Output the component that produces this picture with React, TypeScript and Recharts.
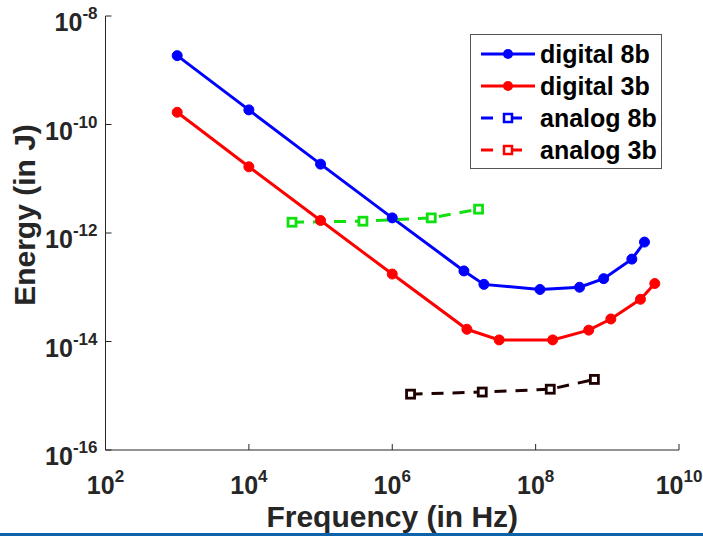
import { LineChart, Line, XAxis, YAxis, Label } from 'recharts'

const digital8bFreq = [1e3, 1e4, 1e5, 1e6, 1e7, 1.9e7, 1.15e8, 4.1e8, 8.9e8, 2.2e9, 3.3e9]
const digital8bEnergy = [1.86e-9, 1.86e-10, 1.86e-11, 1.9e-12, 2.0e-13, 1.13e-13, 9.1e-14, 1.0e-13, 1.44e-13, 3.3e-13, 6.8e-13]
const digital3bFreq = [1e3, 1e4, 1e5, 1e6, 1.1e7, 3.1e7, 1.73e8, 5.5e8, 1.12e9, 2.9e9, 4.6e9]
const digital3bEnergy = [1.68e-10, 1.66e-11, 1.7e-12, 1.75e-13, 1.68e-14, 1.07e-14, 1.07e-14, 1.62e-14, 2.6e-14, 6.0e-14, 1.17e-13]
const analog8bFreq = [4.0e4, 3.9e5, 3.5e6, 1.6e7]
const analog8bEnergy = [1.58e-12, 1.65e-12, 1.9e-12, 2.75e-12]
const analog3bFreq = [1.8e6, 1.8e7, 1.6e8, 6.6e8]
const analog3bEnergy = [1.07e-15, 1.17e-15, 1.32e-15, 2.0e-15]

const xTicks = [1e2, 1e4, 1e6, 1e8, 1e10]
const yTicks = [1e-16, 1e-14, 1e-12, 1e-10, 1e-8]

const legendNames = ['digital 8b', 'digital 3b', 'analog 8b', 'analog 3b']
const legendColors = ['#0000ff', '#ff0000', '#0000ff', '#ff0000']

const FONT = '"Liberation Sans", Arial, sans-serif'
const INK = '#262626'

const toPoints = (fs: number[], es: number[]) => fs.map((f, i) => ({ f, e: es[i] }))

const exp = (v: number) => Math.round(Math.log10(v))

const BottomTick = ({ x, y, payload }: any) => (
  <g>
    <line x1={x} x2={x} y1={y} y2={y - 6} stroke={INK} />
    <text x={x} y={y + 44} textAnchor="middle" fontFamily={FONT} fontWeight="bold" fontSize={25} fill={INK}>
      10<tspan dy={-12} fontSize={17}>{exp(payload.value)}</tspan>
    </text>
  </g>
)

const LeftTick = ({ x, y, payload }: any) => (
  <g>
    <line x1={x} x2={x + 6} y1={y} y2={y} stroke={INK} />
    <text x={x - 8} y={y + 15} textAnchor="end" fontFamily={FONT} fontWeight="bold" fontSize={25} fill={INK}>
      10<tspan dy={-12} fontSize={17}>{exp(payload.value)}</tspan>
    </text>
  </g>
)

const TopTick = ({ x, y }: any) => <line x1={x} x2={x} y1={y} y2={y + 6} stroke={INK} />
const RightTick = ({ x, y }: any) => <line x1={x} x2={x - 6} y1={y} y2={y} stroke={INK} />

const SquareDot = (color: string) => (props: any) => {
  const { cx, cy, index } = props
  if (cx == null || cy == null) return <g key={index} />
  return <rect key={index} x={cx - 4} y={cy - 4} width={8} height={8} fill="#fff" stroke={color} strokeWidth={2.8} />
}

const LegendBox = () => (
  <div style={{ position: 'absolute', left: 470, top: 34, width: 192, height: 135, boxSizing: 'border-box', border: '1px solid #555', background: '#fff', paddingTop: 3 }}>
    {legendNames.map((name, i) => (
      <div key={name} style={{ display: 'flex', alignItems: 'center', height: 32 }}>
        <svg width={69} height={20} style={{ flex: 'none' }}>
          {i < 2 ? (
            <>
              <line x1={10} x2={64} y1={10} y2={10} stroke={legendColors[i]} strokeWidth={3} />
              <circle cx={37} cy={10} r={5} fill={legendColors[i]} />
            </>
          ) : (
            <>
              <line x1={10} x2={22} y1={10} y2={10} stroke={legendColors[i]} strokeWidth={3} />
              <line x1={41} x2={51} y1={10} y2={10} stroke={legendColors[i]} strokeWidth={3} />
              <rect x={33} y={6} width={8} height={8} fill="#fff" stroke={legendColors[i]} strokeWidth={2.5} />
            </>
          )}
        </svg>
        <span style={{ fontFamily: FONT, fontWeight: 'bold', fontSize: 25, lineHeight: '32px', color: '#000', whiteSpace: 'nowrap' }}>{name}</span>
      </div>
    ))}
  </div>
)

export default function App() {
  return (
    <div style={{ position: 'absolute', left: 0, top: 0, width: 703, height: 536, background: '#fff' }}>
      <LineChart width={703} height={536} margin={{ top: 16, right: 24, bottom: 0, left: 0 }}>
        <XAxis dataKey="f" type="number" scale="log" domain={[1e2, 1e10]} ticks={xTicks} allowDataOverflow
          height={86} tickSize={0} tickMargin={0} tickLine={false} tick={<BottomTick />} axisLine={{ stroke: INK }} interval={0}>
          <Label content={({ viewBox }: any) => (
            <text x={viewBox.x + viewBox.width / 2} y={viewBox.y + 77} textAnchor="middle" fontFamily={FONT} fontWeight="bold" fontSize={30} fill={INK}>
              Frequency (in Hz)
            </text>
          )} />
        </XAxis>
        <XAxis xAxisId="top" orientation="top" dataKey="f" type="number" scale="log" domain={[1e2, 1e10]} ticks={xTicks} allowDataOverflow
          height={0} tickSize={0} tickMargin={0} tickLine={false} tick={<TopTick />} axisLine={{ stroke: INK }} interval={0} />
        <YAxis dataKey="e" type="number" scale="log" domain={[1e-16, 1e-8]} ticks={yTicks} allowDataOverflow
          width={105.5} tickSize={0} tickMargin={0} tickLine={false} tick={<LeftTick />} axisLine={{ stroke: INK }} interval={0}>
          <Label content={({ viewBox }: any) => {
            const cx = 24
            const cy = viewBox.y + viewBox.height / 2 - 18
            return (
              <text x={cx} y={cy} transform={`rotate(-90 ${cx} ${cy})`} textAnchor="middle" dominantBaseline="central" fontFamily={FONT} fontWeight="bold" fontSize={30} fill={INK}>
                Energy (in J)
              </text>
            )
          }} />
        </YAxis>
        <YAxis yAxisId="right" orientation="right" dataKey="e" type="number" scale="log" domain={[1e-16, 1e-8]} ticks={yTicks} allowDataOverflow
          width={0} tickSize={0} tickMargin={0} tickLine={false} tick={<RightTick />} axisLine={{ stroke: INK }} interval={0} />
        <Line data={toPoints(digital8bFreq, digital8bEnergy)} dataKey="e" name="digital 8b" stroke="#0000ff" strokeWidth={3}
          dot={{ r: 5, fill: '#0000ff', stroke: '#0000ff', strokeWidth: 1 }} isAnimationActive={false} />
        <Line data={toPoints(digital3bFreq, digital3bEnergy)} dataKey="e" name="digital 3b" stroke="#ff0000" strokeWidth={3}
          dot={{ r: 5, fill: '#ff0000', stroke: '#ff0000', strokeWidth: 1 }} isAnimationActive={false} />
        <Line data={toPoints(analog8bFreq, analog8bEnergy)} xAxisId="top" yAxisId="right" dataKey="e" name="analog 8b" stroke="#10e010" strokeWidth={3}
          strokeDasharray="12 9" dot={SquareDot('#10e010')} isAnimationActive={false} />
        <Line data={toPoints(analog3bFreq, analog3bEnergy)} xAxisId="top" yAxisId="right" dataKey="e" name="analog 3b" stroke="#1e0000" strokeWidth={3}
          strokeDasharray="12 9" dot={SquareDot('#1e0000')} isAnimationActive={false} />
      </LineChart>
      <LegendBox />
      <div style={{ position: 'absolute', left: 0, top: 533, width: 703, height: 3, background: '#0d63a9' }} />
    </div>
  )
}
